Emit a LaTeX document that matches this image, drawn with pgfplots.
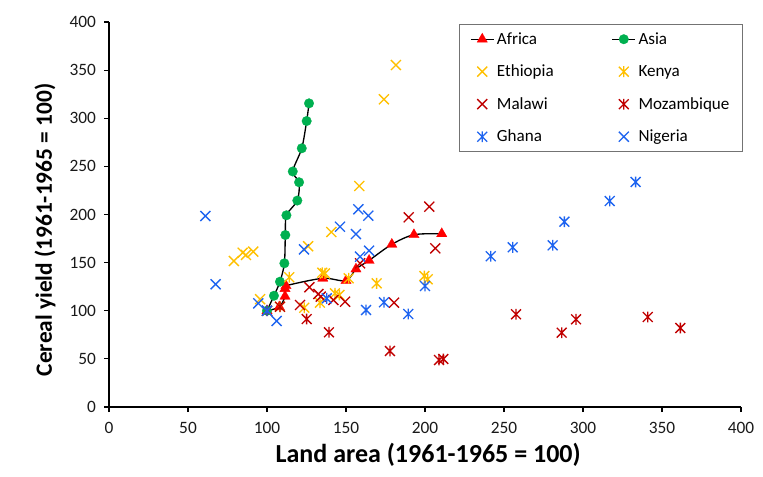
\documentclass[border=0pt]{standalone}
\usepackage{pgfplots}
\pgfplotsset{compat=1.18}
\usepackage{fontspec}
\setmainfont{Carlito}
\definecolor{afr}{RGB}{255,0,0}
\definecolor{asi}{RGB}{0,176,80}
\definecolor{yel}{RGB}{255,192,0}
\definecolor{dred}{RGB}{192,0,0}
\definecolor{blu}{RGB}{30,100,240}
\pgfdeclareplotmark{xstar}{%
  \pgfpathmoveto{\pgfqpoint{-\pgfplotmarksize}{-\pgfplotmarksize}}%
  \pgfpathlineto{\pgfqpoint{\pgfplotmarksize}{\pgfplotmarksize}}%
  \pgfpathmoveto{\pgfqpoint{-\pgfplotmarksize}{\pgfplotmarksize}}%
  \pgfpathlineto{\pgfqpoint{\pgfplotmarksize}{-\pgfplotmarksize}}%
  \pgfpathmoveto{\pgfqpoint{0pt}{-1.1\pgfplotmarksize}}%
  \pgfpathlineto{\pgfqpoint{0pt}{1.1\pgfplotmarksize}}%
  \pgfusepathqstroke}
\begin{document}
\begin{tikzpicture}
\useasboundingbox (0,0) rectangle (572.25pt,357pt);
\begin{axis}[
  at={(81.75pt,51.75pt)}, anchor=south west,
  scale only axis, width=474pt, height=288.75pt,
  xmin=0, xmax=400, ymin=0, ymax=400,
  xtick={0,50,...,400}, ytick={0,50,...,400},
  axis x line*=bottom, axis y line*=left,
  axis line style={black, line width=0.8pt, -},
  tick align=outside, major tick length=3.75pt,
  tick style={black, line width=0.8pt},
  /pgf/number format/assume math mode=true,
  tick label style={font=\fontsize{13}{15}\selectfont, color=black!90},
  xticklabel style={yshift=-4pt},
  yticklabel style={xshift=-2.5pt},
  xlabel={Land area (1961-1965 = 100)},
  ylabel={Cereal yield (1961-1965 = 100)},
  every axis x label/.style={at={(axis description cs:0.505,-0.1247)}, anchor=center,
    font=\fontsize{19.5}{22}\selectfont\bfseries},
  every axis y label/.style={at={(axis description cs:-0.101,0.46)}, rotate=90, anchor=center,
    font=\fontsize{17.5}{20}\selectfont\bfseries},
  clip=false,
  legend columns=2,
  legend cell align=left,
  legend style={at={(0.554,0.995)}, anchor=north west, draw=black!55, line width=0.6pt,
    font=\fontsize{12.8}{15}\selectfont, inner xsep=8pt, inner ysep=4pt,
    row sep=10pt,
    /tikz/every even column/.append style={column sep=41.5pt}},
]
\addplot[black, line width=1pt, smooth, tension=0.5, mark=triangle*, mark size=4.5pt,
  mark options={fill=afr, draw=afr, line width=0.2pt}] coordinates {
  (100,100) (107.8,104) (111.4,115) (111.4,123) (112,126) (135.3,133.7) (150,131.2)
  (156.3,143.3) (164.6,152.3) (179,169) (193,179) (210.6,180)};
\addlegendentry{Africa}
\addplot[black, line width=1pt, smooth, tension=0.5, mark=*, mark size=3.6pt,
  mark options={fill=asi, draw=asi, line width=0.2pt}] coordinates {
  (100,100) (104.4,115.6) (108.2,130.2) (111,149.3) (111.6,178.7) (112.3,199.2)
  (119.2,214.5) (120.3,233.5) (116.3,244.7) (122,268.8) (125.1,297.1) (126.6,315.5)};
\addlegendentry{Asia}
\addplot[only marks, mark=x, mark size=5.3pt, mark options={draw=yel, line width=1pt}] coordinates {
  (100,100) (95.6,112) (79,151.7) (84.6,160.3) (86.7,158) (91.3,161.4) (126,167)
  (140.7,181.8) (158.4,229.6) (174,319.7) (181.6,355.3)};
\addlegendentry{Ethiopia}
\addplot[only marks, mark=xstar, mark size=3.7pt, mark options={draw=yel, line width=1pt}] coordinates {
  (108.2,104.2) (114.1,134.8) (135,139.5) (136.7,138.8) (151.7,133.7) (169.4,128.5)
  (199.6,136.1) (201.7,132.7) (123.6,103.2) (133.5,108.4) (143,118.1) (145.8,116.4)};
\addlegendentry{Kenya}
\addplot[only marks, mark=x, mark size=5.3pt, mark options={draw=dred, line width=1pt}] coordinates {
  (100,100) (120.9,106) (126.8,124.4) (132.5,117.4) (134,114.6) (142,111.2) (149.4,109.4)
  (158.9,149.3) (180.4,108.4) (189.7,197.1) (202.7,208.1) (206.5,164.9)};
\addlegendentry{Malawi}
\addplot[only marks, mark=xstar, mark size=3.7pt, mark options={draw=dred, line width=1pt}] coordinates {
  (100,100) (108.2,104.2) (125.1,91.4) (139.2,77.6) (177.8,58.2) (208.9,48.8) (211.6,49.9)
  (257.6,96.3) (286.5,77.2) (295.6,91.1) (341,93.5) (361.6,82.1)};
\addlegendentry{Mozambique}
\addplot[only marks, mark=xstar, mark size=3.7pt, mark options={draw=blu, line width=1pt}] coordinates {
  (100,100) (137.8,112.9) (162.7,100.8) (174,108.8) (189.4,96.6) (200,125.7)
  (241.6,156.6) (255.5,165.9) (280.8,168) (288.2,192.5) (316.9,214) (333.3,233.8)};
\addlegendentry{Ghana}
\addplot[only marks, mark=x, mark size=5.3pt, mark options={draw=blu, line width=1pt}] coordinates {
  (100,100) (61,198.4) (67.5,127.5) (94.5,107.7) (106.1,89.4) (123.4,163.8) (146.2,187.3)
  (156.3,179.7) (157.8,205.4) (164.1,198.8) (158.9,156.2) (164.6,162.4)};
\addlegendentry{Nigeria}
\end{axis}
\end{tikzpicture}
\end{document}
